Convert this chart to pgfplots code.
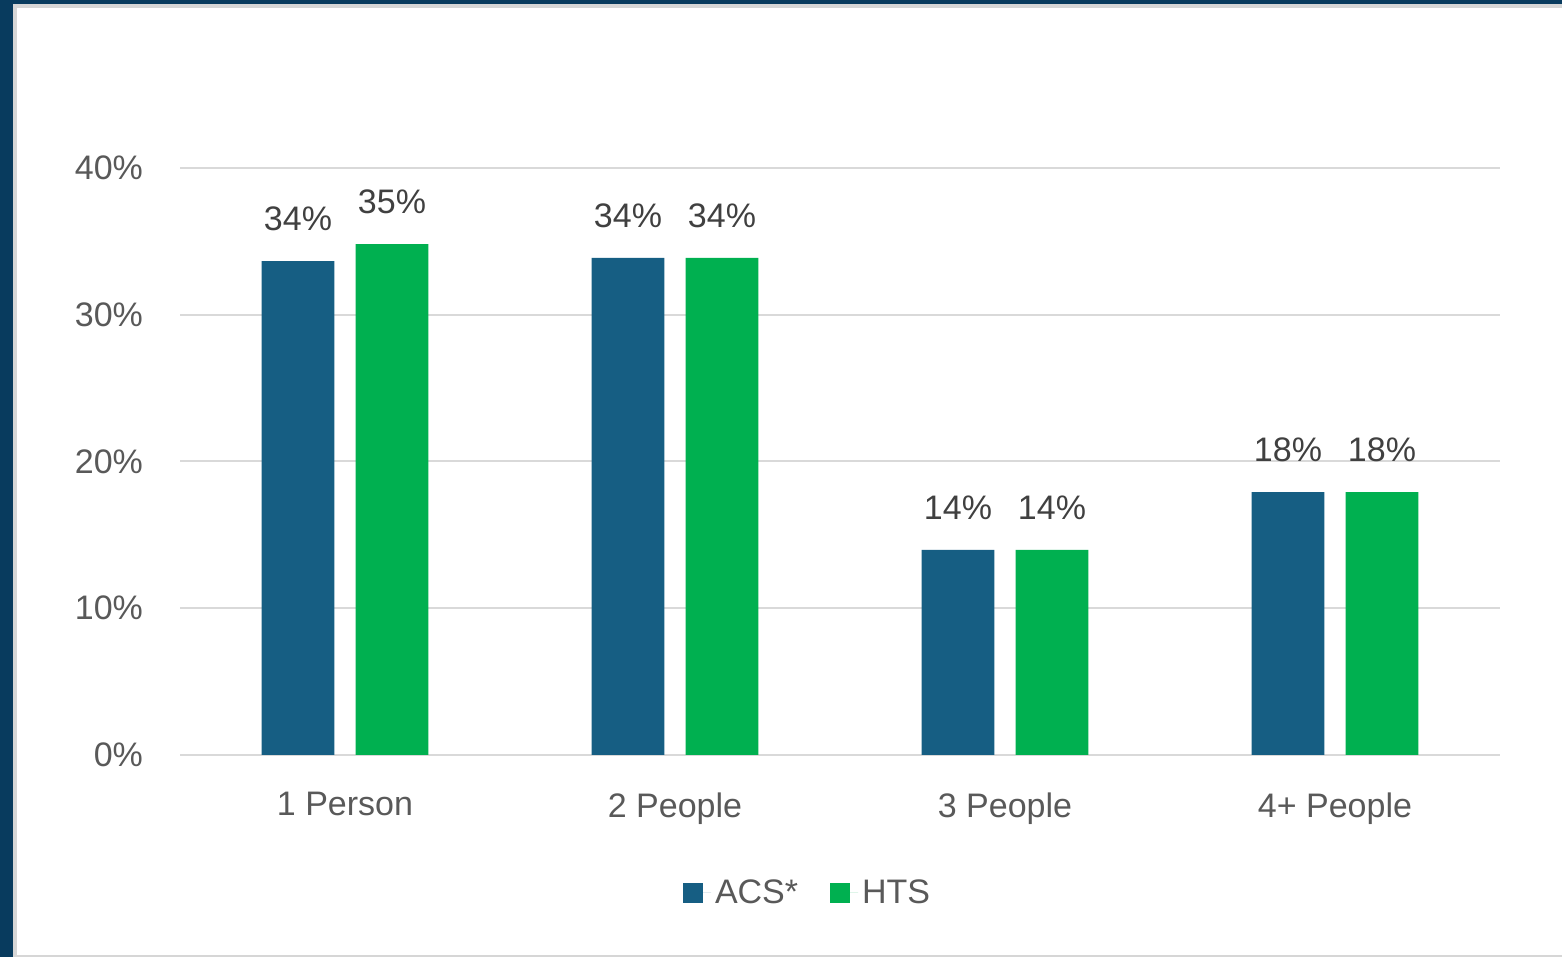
\documentclass[border=0pt]{standalone}
\usepackage{pgfplots}
\pgfplotsset{compat=1.18}
\usepackage{fontspec}
\setmainfont{Liberation Sans}
\definecolor{navy}{HTML}{083B5E}
\definecolor{edgegray}{HTML}{D6D6D6}
\definecolor{acs}{HTML}{165E83}
\definecolor{hts}{HTML}{00B050}
\definecolor{txt}{HTML}{595959}
\definecolor{lbl}{HTML}{404040}
\definecolor{gridc}{HTML}{D9D9D9}
\begin{document}
\begin{tikzpicture}
\fill[navy] (0pt,0pt) rectangle (781pt,478.5pt);
\fill[edgegray] (6.5pt,0pt) rectangle (781pt,476.5pt);
\fill[white] (8.5pt,1pt) rectangle (781pt,474.5pt);
\begin{axis}[
  at={(90pt,101pt)}, anchor=south west,
  scale only axis, width=660pt, height=293.5pt,
  xmin=-0.5, xmax=3.5, ymin=0, ymax=40,
  ybar, bar width=0.221,
  xtick={0,1,2,3},
  xticklabels={1 Person,2 People,3 People,4+ People},
  ytick={0,10,20,30,40},
  yticklabel={\pgfmathprintnumber{\tick}\%},
  /pgf/number format/assume math mode=true,
  axis line style={draw=none},
  major tick style={draw=none},
  xmajorgrids=false, ymajorgrids=true,
  major grid style={draw=gridc, line width=1pt},
  ticklabel style={font=\fontsize{17}{20}\selectfont, text=txt},
  yticklabel style={xshift=-15pt},
  xticklabel style={yshift=-11pt},
  nodes near coords={\pgfmathprintnumber[fixed,precision=0]{\pgfplotspointmeta}\%},
  every node near coord/.append style={font=\fontsize{17}{20}\selectfont, text=lbl, yshift=11.5pt},
  legend style={at={(0.4762,-0.235)}, anchor=center, draw=none, fill=none,
    legend columns=2, font=\fontsize{17}{20}\selectfont, text=txt,
    /tikz/every even column/.append style={column sep=14pt}},
  legend image code/.code={\fill[#1] (0pt,-5pt) rectangle (10pt,5pt); \path (0pt,0pt) -- (14pt,0pt);},
]
\addplot[fill=acs, draw=none, bar shift=-0.1424] coordinates {(0,33.66) (1,33.87) (2,13.97) (3,17.92)};
\addplot[fill=hts, draw=none, bar shift=0.1424] coordinates {(0,34.82) (1,33.87) (2,13.97) (3,17.92)};
\legend{ACS*,HTS}
\end{axis}
\pgfresetboundingbox
\path[use as bounding box] (0pt,0pt) rectangle (781pt,478.5pt);
\end{tikzpicture}
\end{document}
